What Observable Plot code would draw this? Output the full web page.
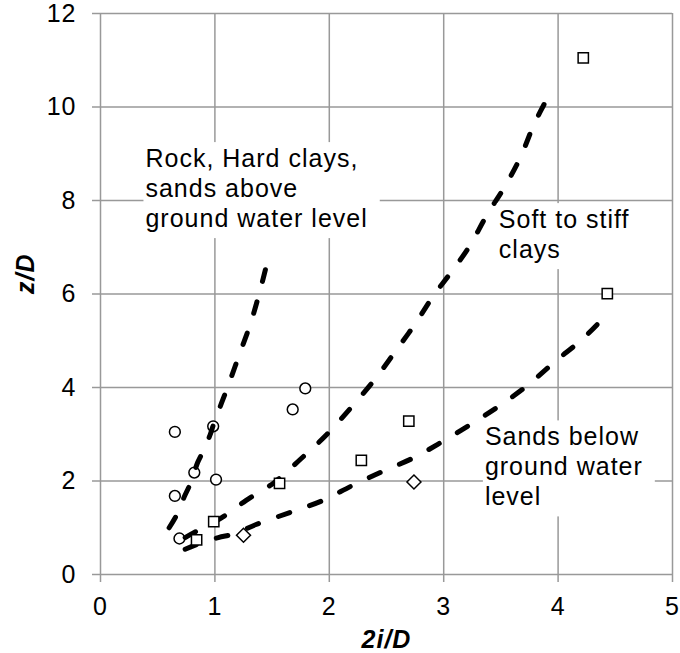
<!DOCTYPE html>
<html>
<head>
<meta charset="utf-8">
<script src="https://cdn.jsdelivr.net/npm/d3@7"></script>
<script src="https://cdn.jsdelivr.net/npm/@observablehq/plot@0.6"></script>
<style>
  body { margin: 0; background: #fff; }
</style>
</head>
<body>
<div id="chart"></div>
<script>
// Trough width parameter 2i/D against relative depth z/D, with design curves per ground type

// Axis ticks
const xTicks = [0, 1, 2, 3, 4, 5];
const yTicks = [0, 2, 4, 6, 8, 10, 12];

// Observations: circles
const circleX = [0.65, 0.985, 1.79, 1.68, 0.82, 1.01, 0.65, 0.69];
const circleY = [3.05, 3.17, 3.98, 3.53, 2.18, 2.03, 1.68, 0.77];

// Observations: squares
const squareX = [4.22, 4.43, 2.695, 2.28, 1.565, 0.99, 0.84];
const squareY = [11.05, 6.01, 3.28, 2.44, 1.95, 1.13, 0.74];

// Observations: diamonds
const diamondX = [1.25, 2.74];
const diamondY = [0.84, 1.98];

// Design curve: rock, hard clays, sands above ground water level
const rockX = [0.6, 0.67, 0.73, 0.79, 0.85, 0.9, 0.96, 1.0, 1.06, 1.11, 1.21, 1.31, 1.39, 1.47];
const rockY = [1.0, 1.29, 1.65, 1.97, 2.4, 2.65, 3.0, 3.3, 3.68, 4.0, 4.68, 5.36, 6.03, 6.8];

// Design curve: soft to stiff clays
const clayX = [0.74, 0.82, 1.05, 1.27, 1.52, 1.75, 1.98, 2.19, 2.4, 2.58, 2.75, 2.91, 3.06, 3.22, 3.38, 3.53, 3.67, 3.79, 3.93];
const clayY = [0.79, 0.9, 1.2, 1.58, 1.97, 2.47, 3.0, 3.57, 4.18, 4.78, 5.36, 5.96, 6.45, 7.0, 7.7, 8.28, 8.92, 9.63, 10.3];

// Design curve: sands below ground water level
const sandX = [0.74, 0.86, 1.03, 1.17, 1.36, 1.66, 1.94, 2.2, 2.48, 2.74, 3.0, 3.26, 3.5, 3.74, 3.98, 4.21, 4.46];
const sandY = [0.54, 0.66, 0.79, 0.87, 1.07, 1.33, 1.58, 1.9, 2.22, 2.5, 2.86, 3.25, 3.63, 4.06, 4.57, 5.03, 5.65];

// Curve labels
const noteText = [
  "Rock, Hard clays,\nsands above\nground water level",
  "Soft to stiff\nclays",
  "Sands below\nground water\nlevel"
];
const noteX = [0.393, 3.482, 3.36];
const noteY = [9.17, 7.865, 3.217];

const xTitle = "2i/D";
const yTitle = "z/D";

const zip = (xs, ys) => xs.map((x, i) => ({x, y: ys[i]}));
const circles = zip(circleX, circleY);
const squares = zip(squareX, squareY);
const diamonds = zip(diamondX, diamondY);
const curves = [
  ...zip(rockX, rockY).map(d => ({...d, curve: "rock"})),
  ...zip(clayX, clayY).map(d => ({...d, curve: "clay"})),
  ...zip(sandX, sandY).map(d => ({...d, curve: "sand"}))
];
const notes = noteText.map((text, i) => ({text, x: noteX[i], y: noteY[i]}));

const gridColor = "#999";
const font = "Arial, 'Liberation Sans', sans-serif";

const chart = Plot.plot({
  width: 680,
  height: 653,
  marginLeft: 100,
  marginRight: 8,
  marginTop: 13,
  marginBottom: 79,
  style: {fontFamily: font, fontSize: "25px", color: "#000", background: "#fff", letterSpacing: "1px", overflow: "visible"},
  x: {domain: [0, 5]},
  y: {domain: [0, 12]},
  marks: [
    Plot.gridX(xTicks, {stroke: gridColor, strokeOpacity: 1, strokeWidth: 1.5}),
    Plot.gridY(yTicks, {stroke: gridColor, strokeOpacity: 1, strokeWidth: 1.5}),
    Plot.axisX(xTicks, {tickSize: 8, tickPadding: 15, stroke: gridColor, strokeWidth: 1.5, fill: "#000", label: null, tickFormat: d => String(d)}),
    Plot.axisY(yTicks, {tickSize: 8, tickPadding: 16, stroke: gridColor, strokeWidth: 1.5, fill: "#000", label: null, tickFormat: d => String(d)}),
    Plot.dot(circles, {x: "x", y: "y", r: 5.4, symbol: "circle", fill: "white", stroke: "black", strokeWidth: 1.5}),
    Plot.line(curves, {
      x: "x", y: "y", z: "curve", curve: "catmull-rom",
      stroke: "black", strokeWidth: 5, strokeDasharray: "12,21", strokeLinecap: "round"
    }),
    Plot.dot(squares, {x: "x", y: "y", r: 5.8, symbol: "square", fill: "white", stroke: "black", strokeWidth: 1.5}),
    Plot.dot(diamonds, {x: "x", y: "y", r: 6.3, symbol: "diamond2", fill: "white", stroke: "black", strokeWidth: 1.5}),
    Plot.text(notes, {
      x: "x", y: "y", text: "text", textAnchor: "start", lineAnchor: "top",
      lineHeight: 1.2, fontSize: 25, fill: "#000", className: "note"
    }),
    Plot.text([xTitle], {
      frameAnchor: "bottom", lineAnchor: "bottom", dy: 73,
      fontSize: 25, fontWeight: "bold", fontStyle: "italic", fill: "#000"
    }),
    Plot.text([yTitle], {
      frameAnchor: "left", lineAnchor: "bottom", rotate: -90, dx: -67,
      fontSize: 25, fontWeight: "bold", fontStyle: "italic", fill: "#000"
    })
  ]
});

document.getElementById("chart").append(chart);

// White backing boxes behind the curve labels
d3.select(chart).selectAll("g.note text").each(function() {
  const b = this.getBBox();
  const rect = document.createElementNS("http://www.w3.org/2000/svg", "rect");
  const t = this.getAttribute("transform");
  if (t) rect.setAttribute("transform", t);
  rect.setAttribute("x", b.x - 2);
  rect.setAttribute("y", b.y - 2);
  rect.setAttribute("width", b.width + 14);
  rect.setAttribute("height", b.height + 8);
  rect.setAttribute("fill", "white");
  rect.setAttribute("stroke", "none");
  this.parentNode.insertBefore(rect, this);
});
</script>
</body>
</html>
